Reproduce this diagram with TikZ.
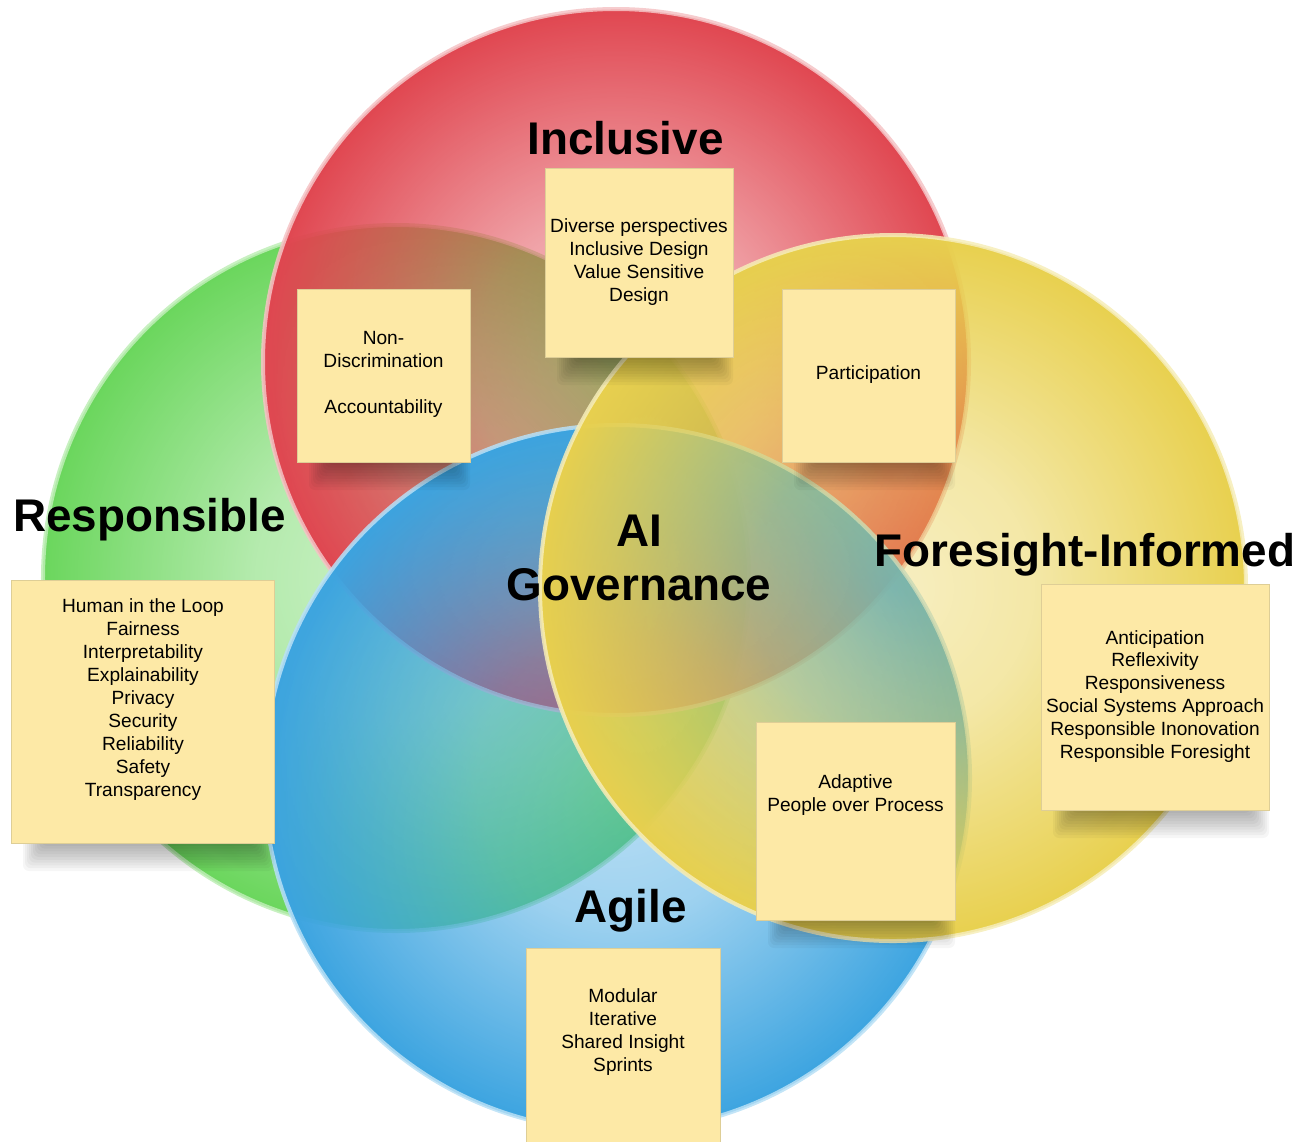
\documentclass[tikz,border=0pt]{standalone}
\usepackage{fontspec}
\setmainfont{Liberation Sans}
\usetikzlibrary{fadings}
\definecolor{redout}{RGB}{224,70,80}
\definecolor{redrim}{RGB}{245,195,197}
\definecolor{greenout}{RGB}{106,214,92}
\definecolor{greenrim}{RGB}{190,238,182}
\definecolor{yelout}{RGB}{232,208,78}
\definecolor{yelrim}{RGB}{246,237,185}
\definecolor{blueout}{RGB}{60,164,224}
\definecolor{bluerim}{RGB}{185,224,246}
\definecolor{notefill}{RGB}{253,233,166}
\definecolor{noteedge}{RGB}{222,206,150}
\pgfdeclareradialshading{glossshade}{\pgfpointorigin}{color(0bp)=(pgftransparent!65); color(10bp)=(pgftransparent!50); color(25bp)=(pgftransparent!0); color(50bp)=(pgftransparent!0)}
\pgfdeclarefading{glossfade}{\pgfuseshading{glossshade}}
\newcommand\notewithshadow[5]{%
  \foreach \k in {0,...,9}{%
    \fill[black, fill opacity=0.035, rounded corners=6bp]
      (#2-#4/2+12+2*\k, #3+#5/2-10) rectangle (#2+#4/2-2*\k, #3+#5/2+28-2.8*\k);}
  \node[note, minimum width=#4bp, minimum height=#5bp] (#1) at (#2,#3) {};}
\begin{document}
\begin{tikzpicture}[x=1bp,y=-1bp,
  note/.style={fill=notefill, draw=noteedge, line width=0.6bp, inner sep=0pt},
  notetext/.style={font=\fontsize{19.2}{23}\selectfont, align=center, inner sep=0pt, text=black},
  title/.style={font=\fontsize{46}{55}\selectfont\bfseries, inner sep=0pt, text=black},
  disc/.style={path fading=glossfade},
  rim/.style={line width=4bp, draw opacity=0.85}]
\useasboundingbox (0,0) rectangle (1310,1141);
\coordinate (cg) at (396,578);
\coordinate (cr) at (616,362);
\coordinate (cb) at (617,778);
\coordinate (cy) at (893,588);
% circles, bottom to top
\fill[disc, greenout] (cg) circle[radius=353bp];
\draw[rim, greenrim] (cg) circle[radius=353bp];
\fill[disc, redout] (cr) circle[radius=353bp];
\draw[rim, redrim] (cr) circle[radius=353bp];
\fill[disc, blueout] (cb) circle[radius=353bp];
\draw[rim, bluerim] (cb) circle[radius=353bp];
\fill[disc, yelout] (cy) circle[radius=353bp];
\draw[rim, yelrim] (cy) circle[radius=353bp];
% sticky notes
\notewithshadow{ninc}{639}{262.5}{188}{189}
\notewithshadow{nnon}{383.5}{375.5}{173}{173}
\notewithshadow{npar}{868.5}{375.5}{173}{173}
\notewithshadow{nres}{142.5}{711.5}{263}{263}
\notewithshadow{nfor}{1155}{697}{228}{226}
\notewithshadow{nada}{855.5}{821}{199}{198}
\notewithshadow{nagi}{623}{1048}{194}{200}
% note texts
\node[notetext] (tinc) at (639,261.9) {Diverse perspectives\\Inclusive Design\\Value Sensitive\\Design};
\node[notetext] (tnon) at (383.5,374.8) {Non-\\Discrimination\\[23bp]Accountability};
\node[notetext] (tpar) at (868.5,374.5) {Participation};
\node[notetext] (tres) at (143,699.6) {Human in the Loop\\Fairness\\Interpretability\\Explainability\\Privacy\\Security\\Reliability\\Safety\\Transparency};
\node[notetext] (tfor) at (1155,696.4) {Anticipation\\Reflexivity\\Responsiveness\\Social Systems Approach\\Responsible Inonovation\\Responsible Foresight};
\node[notetext] (tada) at (855.5,794.6) {Adaptive\\People over Process};
\node[notetext] (tagi) at (623,1032) {Modular\\Iterative\\Shared Insight\\Sprints};
% titles
\node[title, anchor=base] (hinc) at (625.5,154) {Inclusive};
\node[title, anchor=base] (hres) at (149.5,531) {Responsible};
\node[title, anchor=base] (hfor) at (1085,566) {Foresight-Informed};
\node[title, align=center] (hai) at (639,558) {AI\\Governance};
\node[title, anchor=base] (hagi) at (630.5,922) {Agile};
\end{tikzpicture}
\end{document}
